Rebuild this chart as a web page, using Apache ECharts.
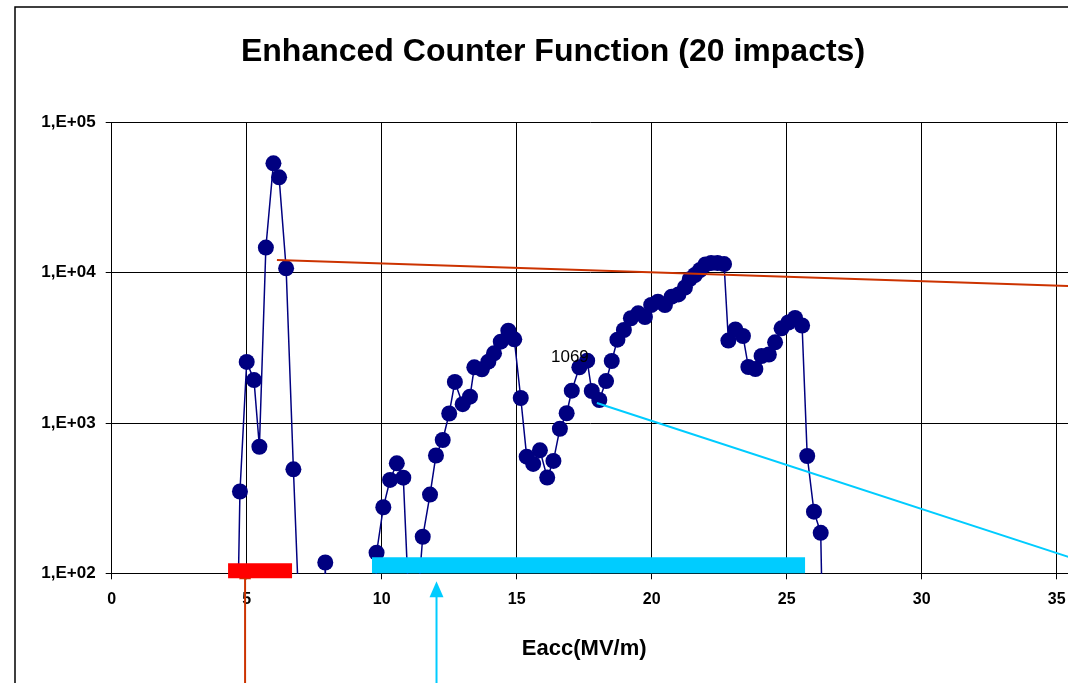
<!DOCTYPE html>
<html><head><meta charset="utf-8">
<script src="https://cdn.jsdelivr.net/npm/echarts@6/dist/echarts.min.js"></script>
<style>html,body{margin:0;padding:0;background:#fff}#c{width:1068px;height:683px}</style>
</head><body><div id="c"></div>
<script>
// ---- data ----
const eacc = [4.5, 4.75, 5.0, 5.27, 5.47, 5.71, 5.99, 6.2, 6.46, 6.73, 7.05, 7.75, 7.91, 8.1, 9.6,
  9.81, 10.06, 10.31, 10.56, 10.8, 11.12, 11.52, 11.79, 12.01, 12.26, 12.5, 12.71, 13.0, 13.27, 13.43,
  13.71, 13.95, 14.16, 14.41, 14.69, 14.91, 15.15, 15.37, 15.61, 15.86, 16.13, 16.36, 16.6, 16.85, 17.04,
  17.32, 17.61, 17.78, 18.06, 18.31, 18.52, 18.73, 18.97, 19.23, 19.5, 19.75, 19.98, 20.23, 20.49, 20.74,
  20.99, 21.23, 21.41, 21.6, 21.79, 21.99, 22.2, 22.44, 22.68, 22.84, 23.1, 23.38, 23.58, 23.84, 24.07,
  24.34, 24.57, 24.81, 25.06, 25.31, 25.57, 25.76, 26.01, 26.26, 26.5];
const counts = [1, 350, 2550, 1930, 695, 14700, 53400, 43100, 10700, 492, 17, 1, 118, 1, 1,
  137, 275, 418, 539, 433, 21, 175, 334, 608, 771, 1157, 1875, 1334, 1496, 2348,
  2276, 2557, 2909, 3474, 4112, 3605, 1467, 597, 534, 658, 434, 559, 916, 1161, 1640,
  2348, 2599, 1633, 1422, 1902, 2585, 3583, 4155, 4975, 5370, 5073, 6097, 6413, 6097, 6925,
  7165, 7974, 9052, 9653, 10420, 11340, 11600, 11600, 11420, 3537, 4188, 3792, 2359, 2287, 2790,
  2856, 3443, 4266, 4664, 4997, 4454, 603, 257, 186, 1];
const xTickValues = [0, 5, 10, 15, 20, 25, 30, 35];
const yTickLabels = ['1,E+02', '1,E+03', '1,E+04', '1,E+05'];
const orangeTrendX = [6.12, 40];
const orangeTrendY = [12150, 7650];
const cyanTrendX = [17.97, 36];
const cyanTrendY = [1360, 119];
const redBand = [4.31, 6.68];
const cyanBand = [9.64, 25.68];
const arrowX = [4.94, 12.03];
const noteX = [16.97];
const noteY = [2750];
const noteText = ['1069'];
const titleText = 'Enhanced Counter Function (20 impacts)';
const xName = 'Eacc(MV/m)';

const FONT = 'Liberation Sans, Arial, sans-serif';
const chart = echarts.init(document.getElementById('c'), null, {renderer: 'canvas'});

const mainData = eacc.map((x, i) => [x, counts[i]]);
const option = {
  animation: false,
  backgroundColor: '#fff',
  title: {
    text: titleText, left: 548, top: 31, textAlign: 'center',
    textStyle: {fontFamily: FONT, fontWeight: 'bold', fontSize: 32, color: '#000'}
  },
  grid: {left: 111.7, top: 122.4, bottom: 109.7, right: -123.7, containLabel: false, outerBoundsMode: 'none'},
  xAxis: {
    type: 'value', min: 0, max: 40, interval: 5,
    axisLine: {show: true, onZero: false, lineStyle: {color: '#000', width: 1}},
    axisTick: {show: true, length: 6, lineStyle: {color: '#000'}},
    splitLine: {show: true, lineStyle: {color: '#000', width: 1}},
    axisLabel: {
      margin: 18, fontFamily: FONT, fontWeight: 'bold', fontSize: 16, color: '#000',
      formatter: v => xTickValues.indexOf(v) >= 0 ? String(v) : ''
    }
  },
  yAxis: {
    type: 'log', logBase: 10, min: 100, max: 100000,
    axisLine: {show: true, lineStyle: {color: '#000', width: 1}},
    axisTick: {show: true, length: 6, lineStyle: {color: '#000'}},
    minorTick: {show: false},
    splitLine: {show: true, lineStyle: {color: '#000', width: 1}},
    axisLabel: {
      margin: 16, fontFamily: FONT, fontWeight: 'bold', fontSize: 17, color: '#000',
      formatter: v => yTickLabels[Math.round(Math.log10(v)) - 2] || ''
    }
  },
  series: [
    {
      type: 'line', data: mainData, clip: true, z: 2,
      symbol: 'circle', symbolSize: 16,
      itemStyle: {color: '#000080'},
      lineStyle: {color: '#000080', width: 1.5}
    },
    {
      type: 'line', data: orangeTrendX.map((x, i) => [x, orangeTrendY[i]]), clip: true, z: 4,
      symbol: 'none', lineStyle: {color: '#CC3300', width: 2}
    },
    {
      type: 'line', data: cyanTrendX.map((x, i) => [x, cyanTrendY[i]]), clip: true, z: 4,
      symbol: 'none', lineStyle: {color: '#00CCFF', width: 2}
    },
    {
      type: 'scatter', data: noteX.map((x, i) => [x, noteY[i], i]), symbolSize: 0, z: 6,
      itemStyle: {opacity: 1},
      label: {show: true, position: 'inside', formatter: p => noteText[p.value[2]], opacity: 1,
        fontFamily: FONT, fontSize: 17, color: '#000', textBorderWidth: 0}
    },
    {
      type: 'custom', clip: false, z: 5,
      data: arrowX.map((x, i) => [x, 100, i]),
      encode: {x: 0, y: 1},
      renderItem: function (params, api) {
        const p = api.coord([api.value(0), api.value(1)]);
        const H = api.getHeight();
        const kind = api.value(2);
        if (kind === 0) {
          const c = '#CC3300';
          return {type: 'group', children: [
            {type: 'line', shape: {x1: p[0], y1: p[1], x2: p[0], y2: H}, style: {stroke: c, lineWidth: 2}},
            {type: 'polygon', shape: {points: [[p[0], p[1] - 8], [p[0] - 6, p[1] + 6], [p[0] + 6, p[1] + 6]]}, style: {fill: c}}
          ]};
        }
        const c = '#00CCFF';
        return {type: 'group', children: [
          {type: 'line', shape: {x1: p[0], y1: p[1] + 22, x2: p[0], y2: H}, style: {stroke: c, lineWidth: 2}},
          {type: 'polygon', shape: {points: [[p[0], p[1] + 8], [p[0] - 7, p[1] + 24], [p[0] + 7, p[1] + 24]]}, style: {fill: c}}
        ]};
      }
    },
    {
      type: 'custom', clip: false, z: 6,
      data: [[redBand[0], redBand[1], 100, 0], [cyanBand[0], cyanBand[1], 100, 1]],
      encode: {x: [0, 1], y: 2},
      renderItem: function (params, api) {
        const a = api.coord([api.value(0), api.value(2)]);
        const b = api.coord([api.value(1), api.value(2)]);
        const kind = api.value(3);
        if (kind === 0) {
          return {type: 'rect', shape: {x: a[0], y: a[1] - 10, width: b[0] - a[0], height: 15}, style: {fill: '#FF0000'}};
        }
        return {type: 'rect', shape: {x: a[0], y: a[1] - 16, width: b[0] - a[0], height: 16}, style: {fill: '#00CCFF'}};
      }
    }
  ],
  graphic: [
    {id: 'frame', type: 'rect', silent: true, shape: {x: 15, y: 7, width: 1300, height: 900},
      style: {fill: 'none', stroke: '#000', lineWidth: 1.5}, z: 10}
  ]
};
chart.setOption(option);
const cx = chart.convertToPixel({xAxisIndex: 0}, 17.5);
const by = chart.convertToPixel({yAxisIndex: 0}, 100);
chart.setOption({graphic: [
  {id: 'frame', type: 'rect', silent: true, shape: {x: 15, y: 7, width: 1300, height: 900},
    style: {fill: 'none', stroke: '#000', lineWidth: 1.5}, z: 10},
  {id: 'xname', type: 'text', x: cx, y: by + 76, z: 10,
    style: {text: xName, textAlign: 'center', textVerticalAlign: 'middle',
      font: 'bold 22px ' + FONT, fill: '#000'}}
]});
</script>
</body></html>
